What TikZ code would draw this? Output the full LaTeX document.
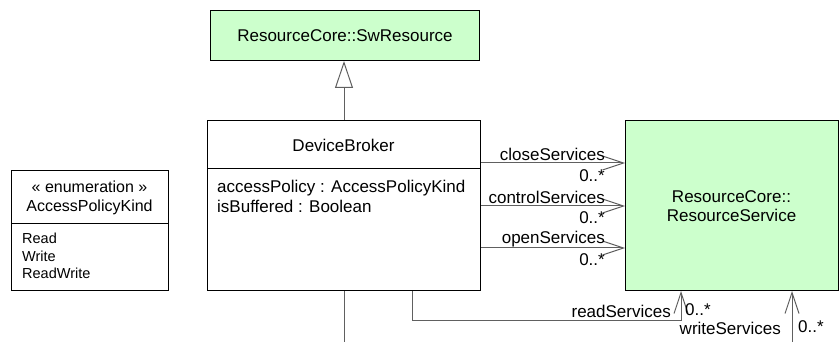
\documentclass[tikz,border=0pt]{standalone}
\usepackage{fontspec}
\setmainfont{Liberation Sans}
\usetikzlibrary{arrows.meta}
\definecolor{umlgreen}{HTML}{CCFFCC}
\definecolor{linegray}{HTML}{606060}
\begin{document}
\begin{tikzpicture}[x=1pt,y=-1pt,
  font=\fontsize{17pt}{19.5pt}\selectfont,
  boxstyle/.style={draw=black,line width=1pt,inner sep=0pt,anchor=north west},
  txt/.style={inner sep=0pt},
  assoc/.style={draw=linegray,line width=1pt,-{Straight Barb[length=21pt,width=14pt,line width=1pt]}},
  gen/.style={draw=linegray,line width=1pt,-{Triangle[open,length=27pt,width=18pt,line width=1pt,fill=white]}},
  plain/.style={draw=linegray,line width=1pt}]
\useasboundingbox (0,0) rectangle (839,342);
% SwResource
\node[boxstyle,fill=umlgreen,minimum width=269pt,minimum height=50pt] (sw) at (210,10) {};
\node[txt] (swt) at (sw.center) {ResourceCore::SwResource};
% DeviceBroker
\node[boxstyle,minimum width=273pt,minimum height=170pt] (db) at (207,120) {};
\draw[line width=1pt] ([yshift=-49pt]db.north west) -- ([yshift=-49pt]db.north east);
\node[txt] (dbt) at (343.5,145) {DeviceBroker};
\node[txt,anchor=north west,align=left] (dba) at (217,180) {accessPolicy : AccessPolicyKind\\isBuffered : Boolean};
% ResourceService
\node[boxstyle,fill=umlgreen,minimum width=213pt,minimum height=170pt] (rs) at (625,120) {};
\node[txt,align=center] (rst) at (731.5,206) {ResourceCore::\\ResourceService};
% Enumeration
\node[boxstyle,minimum width=157pt,minimum height=120pt] (en) at (11,170) {};
\draw[line width=1pt] ([yshift=-54pt]en.north west) -- ([yshift=-54pt]en.north east);
\node[txt,align=center,font=\fontsize{16pt}{19.5pt}\selectfont] (ent) at (89.5,198) {« enumeration »\\AccessPolicyKind};
\node[txt,anchor=north west,align=left,font=\fontsize{14.5pt}{17.5pt}\selectfont] (eni) at (22,233) {Read\\Write\\ReadWrite};
% generalization
\draw[gen] ([xshift=137pt]db.north west) -- ([xshift=134pt]sw.south west);
% bottom line
\coordinate (bot) at (344,342);
\draw[plain] ([xshift=137pt]db.south west) -- (bot);
% associations
\draw[assoc] ([yshift=-43pt]db.north east) -- ([yshift=-43pt]rs.north west);
\draw[assoc] ([yshift=-86pt]db.north east) -- ([yshift=-86pt]rs.north west);
\draw[assoc] ([yshift=-128pt]db.north east) -- ([yshift=-128pt]rs.north west);
\node[txt,anchor=east] (l1) at (605,154) {closeServices};
\node[txt,anchor=east] (m1) at (605,176) {0..*};
\node[txt,anchor=east] (l2) at (605,197) {controlServices};
\node[txt,anchor=east] (m2) at (605,218) {0..*};
\node[txt,anchor=east] (l3) at (605,239) {openServices};
\node[txt,anchor=east] (m3) at (605,260) {0..*};
% readServices
\coordinate (rd) at (681,320);
\draw[assoc] ([xshift=205pt]db.south west) |- (rd) -- ([xshift=56pt]rs.south west);
\node[txt,anchor=east] (l4) at (671,311) {readServices};
\node[txt,anchor=west] (m4) at (685,310) {0..*};
% writeServices
\coordinate (wr) at (792,342);
\draw[assoc] (wr) -- ([xshift=167pt]rs.south west);
\node[txt,anchor=east] (l5) at (781,328) {writeServices};
\node[txt,anchor=west] (m5) at (798,327) {0..*};
\end{tikzpicture}
\end{document}
